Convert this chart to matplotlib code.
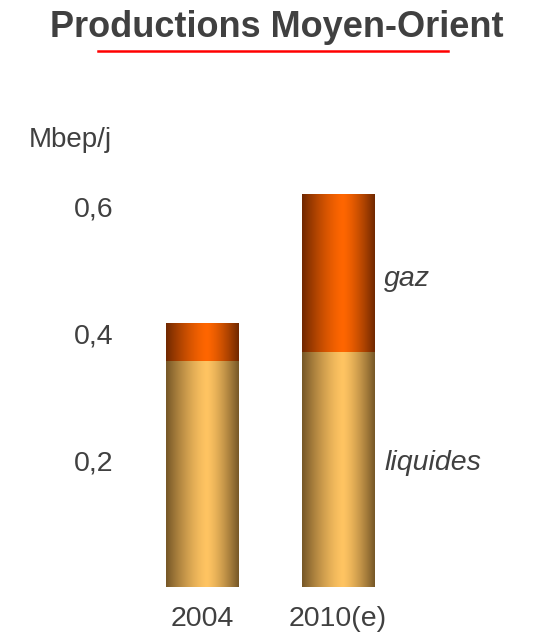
import numpy as np
import matplotlib
matplotlib.use("Agg")
import matplotlib.pyplot as plt
from matplotlib.colors import to_rgb
from matplotlib.lines import Line2D

# Production Moyen-Orient (Mbep/j)
years = ["2004", "2010(e)"]
liquides = [0.357, 0.370]
gaz = [0.060, 0.250]
tick_vals = [0.2, 0.4, 0.6]
tick_labels = ["0,2", "0,4", "0,6"]

plt.rcParams['font.family'] = ['Liberation Sans', 'DejaVu Sans']
txt = '#404040'
W, H = 533, 638


def shade(dark, light, n=200, peak=0.56):
    # cylinder-like horizontal shading, brightest a bit right of centre
    t = np.linspace(0, 1, n)
    d = np.where(t < peak, (peak - t) / peak, (t - peak) / (1 - peak))
    w = np.clip(1 - d ** 1.4, 0, 1)
    dk, lt = np.array(to_rgb(dark)), np.array(to_rgb(light))
    return (dk[None, :] * (1 - w[:, None]) + lt[None, :] * w[:, None])[None, :, :]


fig = plt.figure(figsize=(W / 100, H / 100), dpi=100)
ax = fig.add_axes([134 / W, (H - 587) / H, 272 / W, 0.7 * 634 / H])

x = np.arange(len(years))
bw = 0.53
b1 = ax.bar(x, liquides, bw, color='none')
b2 = ax.bar(x, gaz, bw, bottom=liquides, color='none')

for bars, dark, light in [(b1, '#765727', '#ffc462'), (b2, '#702800', '#ff6600')]:
    g = shade(dark, light)
    for p in bars:
        x0, y0 = p.get_x(), p.get_y()
        im = ax.imshow(g, extent=[x0, x0 + p.get_width(), y0, y0 + p.get_height()],
                       aspect='auto', interpolation='bilinear', zorder=2)
        im.set_clip_path(p)

ax.set_xlim(-0.5, 1.5)
ax.set_ylim(0, 0.7)
ax.set_yticks(tick_vals, tick_labels)
ax.set_xticks(x, years)
ax.tick_params(length=0, labelsize=20.5, labelcolor=txt)
ax.tick_params(axis='y', pad=15)
ax.tick_params(axis='x', pad=14)
for s in ax.spines.values():
    s.set_visible(False)

# series labels to the right of the 2010 bar
lx = x[1] + bw / 2 + 0.075
ax.text(lx, 0.475, "gaz", style='italic', fontsize=20.5, color=txt, va='baseline')
ax.text(lx, liquides[1] / 2, "liquides", style='italic', fontsize=20.5, color=txt, va='baseline')

fig.text(29 / W, (H - 147) / H, "Mbep/j", fontsize=20, color=txt, va='baseline')
fig.text(276.5 / W, (H - 37) / H, "Productions Moyen-Orient", fontsize=26,
         fontweight='bold', color=txt, ha='center', va='baseline')
fig.add_artist(Line2D([98 / W, 448 / W], [(H - 51) / H] * 2, color='red', lw=1.8))

fig.savefig("out.png", dpi=100)
